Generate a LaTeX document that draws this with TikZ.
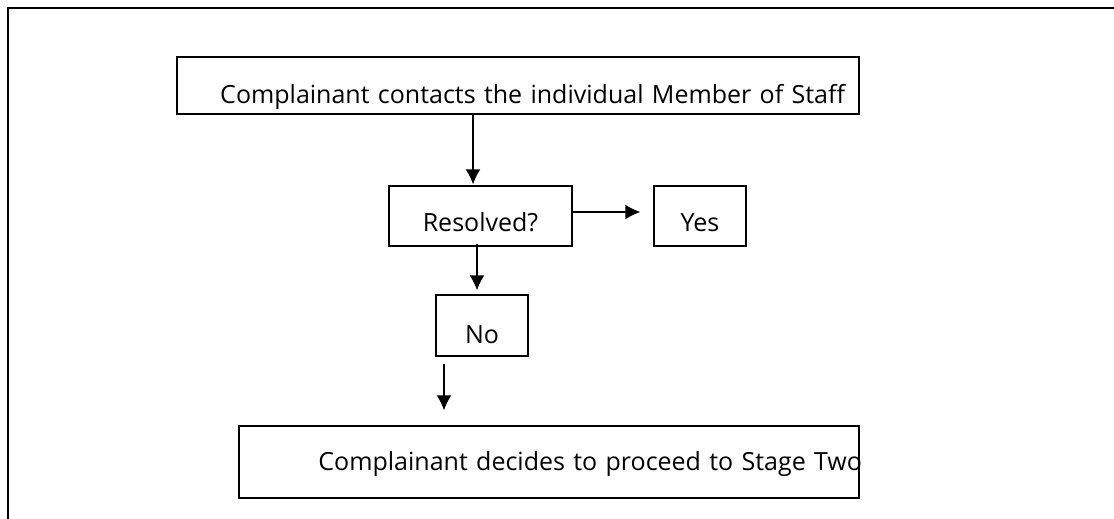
\documentclass[tikz,border=0pt]{standalone}
\usepackage{fontspec}
\setmainfont{Open Sans}
\usepackage{tikz}
\usetikzlibrary{arrows.meta,positioning}
\tikzset{
flowbox/.style={
  draw,
  line width=1.4pt,
  shape=rectangle,
  inner ysep=0pt,
  font=\fontsize{25}{29}\selectfont
  },
flowarrow/.style={
  ->,
  line width=1.4pt
  }
}

\begin{document}
\begin{tikzpicture}[x=1pt,y=1pt,>={Latex[length=15pt,width=15pt]}]
\useasboundingbox (0,0) rectangle (1114,-519);
% the frame
\draw[line width=1.8pt] (8,-519) -- (8,-8) -- (1114,-8);
% the shapes
\node[flowbox,minimum width=682pt,minimum height=57pt,inner xsep=14pt,
  text width=654pt,align=right,text height=35pt,text depth=0pt]
  at (518,-85.5) (contact)
  {Complainant contacts the individual Member of Staff};
\node[flowbox,minimum width=183pt,minimum height=60pt,
  text height=30pt,text depth=0pt]
  at (480.5,-216) (resolved)
  {Resolved?};
\node[flowbox,minimum width=92pt,minimum height=60pt,
  text height=30pt,text depth=0pt]
  at (700,-216) (yes)
  {Yes};
\node[flowbox,minimum width=92pt,minimum height=61pt,
  text height=35pt,text depth=0pt]
  at (482,-325.5) (no)
  {No};
\node[flowbox,minimum width=620pt,minimum height=72pt,inner xsep=-3pt,
  text width=626pt,align=right,text height=16pt,text depth=0pt]
  at (549,-462) (stagetwo)
  {Complainant decides to proceed to Stage Two};

%the arrows
\draw[flowarrow,shorten >=1pt]
  ([xshift=-45pt]contact.south) --
  ([xshift=-45pt]contact.south |- resolved.north);
\draw[flowarrow,shorten >=13pt]
  ([yshift=4pt]resolved.east) --
  ([yshift=4pt]yes.west);
\draw[flowarrow,shorten <=-3pt,shorten >=4pt]
  ([xshift=-3.5pt]resolved.south) --
  ([xshift=-3.5pt]resolved.south |- no.north);
\draw[flowarrow,shorten <=7pt,shorten >=15pt]
  ([xshift=-38pt]no.south) --
  ([xshift=-38pt]no.south |- stagetwo.north);
\end{tikzpicture}
\end{document}
